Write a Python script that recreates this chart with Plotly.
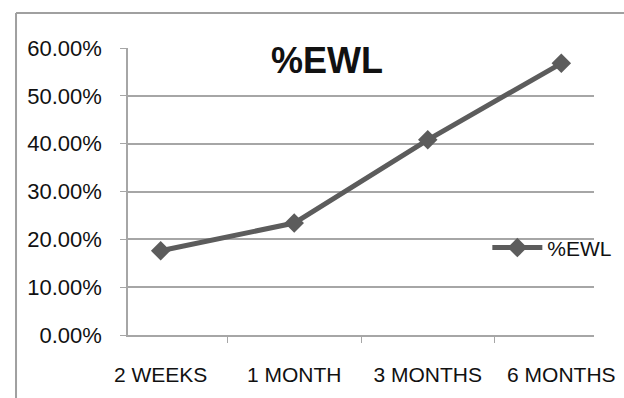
import plotly.graph_objects as go

categories = ["2 WEEKS", "1 MONTH", "3 MONTHS", "6 MONTHS"]
ewl_values = [0.176, 0.234, 0.408, 0.568]
series_name = "%EWL"
chart_title = "%EWL"

FONT = "Liberation Sans, Arial, sans-serif"
GRID = "#a6a6a6"
LINE = "#5c5c5c"

fig = go.Figure()
fig.add_trace(go.Scatter(
    x=categories, y=ewl_values, name=series_name, mode="lines+markers",
    line=dict(color=LINE, width=5),
    marker=dict(symbol="diamond", size=15, color=LINE),
    showlegend=True,
))

fig.update_layout(
    width=624, height=398,
    margin=dict(l=128, r=30, t=48, b=63, autoexpand=False),
    paper_bgcolor="white", plot_bgcolor="white",
    font=dict(family=FONT, size=21, color="#111111"),
    title=dict(text="<b>" + chart_title + "</b>", x=0.524, xanchor="center",
               y=0.847, yanchor="middle",
               font=dict(family=FONT, size=36, color="#111111")),
    showlegend=True,
    legend=dict(xref="container", yref="container", x=0.781, xanchor="left",
                y=0.377, yanchor="middle",
                bgcolor="rgba(0,0,0,0)", font=dict(size=21, family=FONT, color="#111111"),
                itemwidth=50),
    shapes=[
        dict(type="line", xref="paper", yref="paper", x0=-0.2403, x1=1.3, y0=1.122, y1=1.122,
             line=dict(color="#a0a0a0", width=2)),
        dict(type="line", xref="paper", yref="paper", x0=-0.2403, x1=-0.2403, y0=1.122, y1=-0.4,
             line=dict(color="#a0a0a0", width=2)),
    ],
)

fig.update_xaxes(
    type="category", tickson="boundaries", ticks="outside", ticklen=6, tickcolor=GRID,
    showline=True, linecolor=GRID, linewidth=1.5, showgrid=False,
    ticklabelstandoff=20, tickfont=dict(size=21, family=FONT, color="#111111"),
)
fig.update_yaxes(
    range=[0, 0.6], dtick=0.1, tickformat=".2%", ticks="outside", ticklen=6, tickcolor=GRID,
    showline=True, linecolor=GRID, linewidth=1.5, showgrid=True, gridcolor=GRID, gridwidth=1.5,
    zeroline=False, ticklabelstandoff=14, tickfont=dict(size=22, family=FONT, color="#111111"),
)

fig.write_html("out.html", config={"displayModeBar": False},
               post_script="document.body.style.margin='0';document.body.style.overflow='hidden';")
